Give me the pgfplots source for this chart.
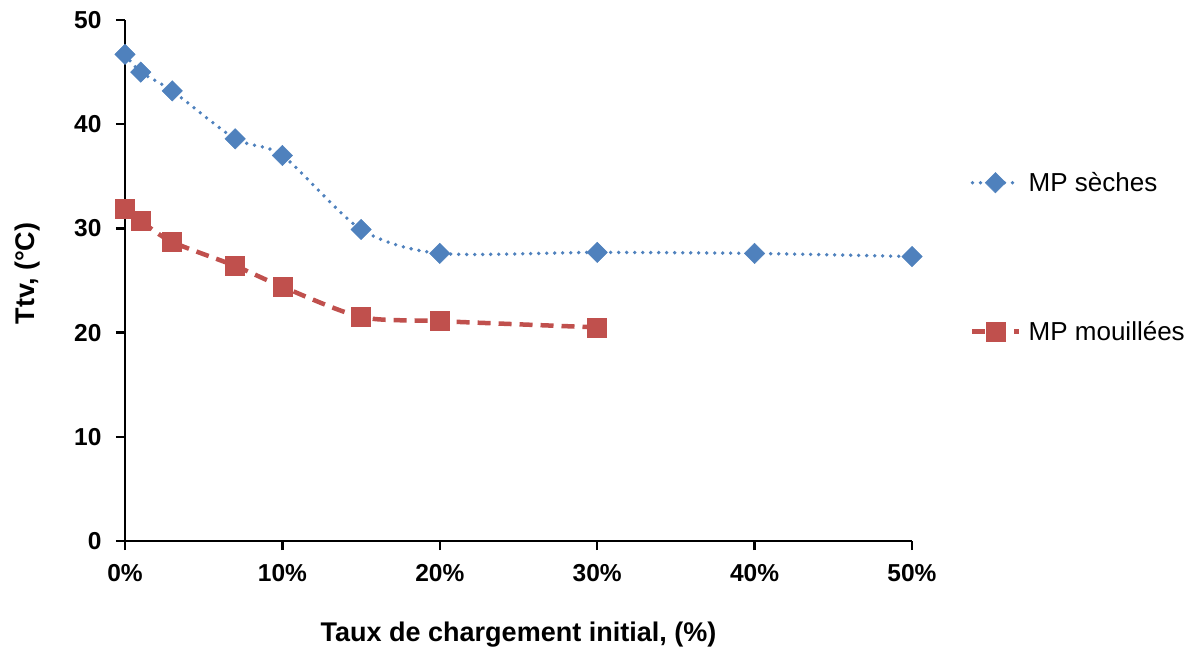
\documentclass[border=0pt]{standalone}
\usepackage{pgfplots}
\pgfplotsset{compat=1.18}
\usepackage{fontspec}
\setmainfont{Liberation Sans}
\definecolor{xlblue}{HTML}{4F81BD}
\definecolor{xlred}{HTML}{C0504D}
\pgfplotsset{legend image code/.code={%
  \draw[#1, mark repeat=2, mark phase=2] plot coordinates {(0pt,0pt) (23pt,0pt) (46pt,0pt)};}}
\begin{document}
\begin{tikzpicture}
\begin{axis}[
  scale only axis,
  width=787pt, height=521pt,
  xmin=0, xmax=50, ymin=0, ymax=50,
  axis x line=bottom, axis y line=left,
  axis line style={line width=2.5pt, -},
  xtick={0,10,20,30,40,50},
  ytick={0,10,20,30,40,50},
  xticklabel={\pgfmathprintnumber{\tick}\%},
  tick style={line width=2.5pt, black},
  tick align=outside,
  major tick length=9pt,
  /pgf/number format/assume math mode=true,
  tick label style={font=\bfseries\fontsize{24.5}{28}\selectfont},
  xticklabel style={yshift=-11pt},
  yticklabel style={xshift=-11pt},
  xlabel={Taux de chargement initial, (\%)},
  ylabel={Ttv, (°C)},
  label style={font=\bfseries\fontsize{27}{31}\selectfont},
  xlabel style={yshift=-33pt},
  ylabel style={yshift=27pt, xshift=7pt},
  legend style={draw=none, fill=none, at={(1.0737,0.545)}, anchor=west,
    font=\fontsize{26}{30}\selectfont, row sep=124pt, inner sep=0pt,
    /tikz/every odd column/.append style={column sep=6pt}},
  legend cell align=left,
  clip=false,
]
\addplot[color=xlblue, line width=3.8pt, dash pattern=on 0pt off 8pt, line cap=round,
  smooth, tension=0.45,
  mark=square*, mark size=7.2pt, mark options={solid, rotate=45, fill=xlblue, draw=xlblue, line width=0.5pt}]
coordinates {
(0,46.7) (1,45.0) (3,43.2) (7,38.6) (10,37.0) (15,29.9) (20,27.6) (30,27.7) (40,27.6) (50,27.3)
};
\addlegendentry{MP sèches}
\addplot[color=xlred, line width=4.5pt, dash pattern=on 13pt off 8pt,
  smooth, tension=0.45,
  mark=square*, mark size=9.5pt, mark options={solid, fill=xlred, draw=xlred, line width=0.5pt}]
coordinates {
(0,31.9) (1,30.7) (3,28.7) (7,26.4) (10,24.4) (15,21.5) (20,21.1) (30,20.5)
};
\addlegendentry{MP mouillées}
\end{axis}
\pgfresetboundingbox
\useasboundingbox (-125pt,-108pt) rectangle (1071pt,541pt);
\end{tikzpicture}
\end{document}
